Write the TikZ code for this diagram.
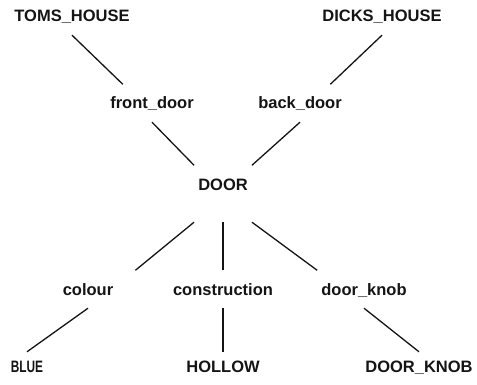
\documentclass[tikz,border=0pt]{standalone}
\usepackage{fontspec}
\setmainfont{Liberation Sans}
\usepackage{graphicx}
\usepackage{tikz}
\usetikzlibrary{positioning}
\definecolor{inkblack}{RGB}{20,20,20}

\begin{document}
\begin{tikzpicture}[x=1pt,y=-1pt,
    lbl/.style={anchor=base, inkblack, font=\bfseries\fontsize{16.5}{18}\selectfont,
      text height=11.5pt, text depth=0pt, inner xsep=4pt, inner ysep=13pt},
    leaf/.style={lbl, inner ysep=8.5pt},
    link/.style={inkblack, line width=1.3pt}]
          \useasboundingbox (0,0) rectangle (477,385);

          % Houses
          \node[lbl] (toms) at (72,22) {TOMS\_HOUSE};
          \node[lbl] (dicks) at (382,22) {DICKS\_HOUSE};
          \node[lbl] (front) at (152,109) {front\_door};
          \node[lbl] (back) at (300,109) {back\_door};

          % Door and its slots
          \node[lbl, text depth=19pt] (door) at (223,190) {DOOR};
          \node[lbl] (colour) at (88,295) {colour};
          \node[lbl] (construction) at (223,295) {construction};
          \node[lbl] (knob) at (364,295) {door\_knob};

          % Values
          \node[leaf] (blue) at (27,372) {\scalebox{0.72}[1]{BLUE}};
          \node[leaf] (hollow) at (223,372) {HOLLOW};
          \node[leaf] (doorknob) at (419,372) {DOOR\_KNOB};

          % Links
          \draw[link] (toms.south) -- (front.147);
          \draw[link] (dicks.south) -- (back.32);
          \draw[link] (front.south) -- (door.north west);
          \draw[link] (back.south) -- (door.north east);
          \draw[link] (door.south west) -- ([xshift=18pt]colour.north east);
          \draw[link] (door.south) -- (construction.north);
          \draw[link] (door.south east) -- (knob.north west);
          \draw[link] (colour.south) -- (blue.north);
          \draw[link] (construction.south) -- (hollow.north);
          \draw[link] (knob.south) -- (doorknob.north);
        \end{tikzpicture}
\end{document}
